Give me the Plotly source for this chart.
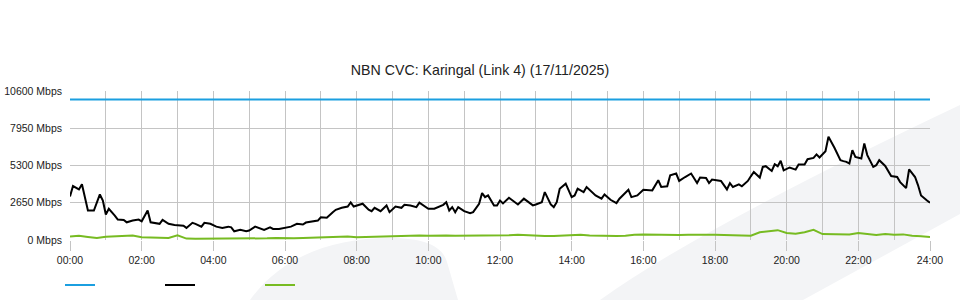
import plotly.graph_objects as go

# ---------------- data ----------------
title_text = "NBN CVC: Karingal (Link 4) (17/11/2025)"

cap_times = ["00:00", "24:00"]
cap_values = [10000, 10000]

traffic_times = [
    "00:00","00:05","00:15","00:20","00:30","00:40","00:50","00:55","01:00","01:05",
    "01:15","01:20","01:30","01:35","01:45","01:55","02:00","02:10","02:15","02:25",
    "02:30","02:35","02:45","02:55","03:10","03:15","03:25","03:30","03:40","03:45",
    "03:55","04:05","04:15","04:25","04:30","04:35","04:45","04:55","05:00","05:10",
    "05:15","05:25","05:35","05:40","05:50","06:05","06:10","06:20","06:30","06:35",
    "06:45","06:55","07:00","07:10","07:20","07:25","07:35","07:45","07:50","07:55",
    "08:10","08:20","08:25","08:30","08:40","08:50","08:55","09:05","09:15","09:20",
    "09:30","09:40","09:45","10:00","10:10","10:25","10:30","10:35","10:40","10:45",
    "10:50","11:00","11:10","11:15","11:25","11:30","11:35","11:40","11:50","11:55",
    "12:00","12:05","12:15","12:30","12:40","12:55","13:00","13:10","13:15","13:25",
    "13:30","13:35","13:40","13:50","14:00","14:05","14:10","14:20","14:25","14:40",
    "14:50","14:55","15:05","15:15","15:20","15:30","15:35","15:40","15:50","16:00",
    "16:10","16:15","16:25","16:30","16:40","16:45","16:55","17:00","17:10","17:20",
    "17:30","17:35","17:45","17:50","17:55","18:10","18:20","18:25","18:30","18:40",
    "18:45","18:55","19:00","19:05","19:15","19:20","19:25","19:35","19:40","19:45",
    "19:50","19:55","20:05","20:15","20:20","20:30","20:35","20:45","20:50","20:55",
    "21:05","21:10","21:20","21:30","21:35","21:40","21:45","21:50","21:55","22:05",
    "22:10","22:15","22:25","22:30","22:35","22:45","22:55","23:05","23:10","23:20",
    "23:25","23:35","23:40","23:45","23:55","24:00",
]
traffic_values = [
    3100, 3840, 3600, 3960, 2100, 2100, 3240, 2810, 1810, 2220,
    1740, 1450, 1430, 1260, 1380, 1450, 1330, 2100, 1260, 1150,
    1150, 1430, 1150, 1070, 1020, 860, 1220, 1150, 950, 1220,
    1150, 950, 860, 950, 900, 620, 720, 620, 670, 950,
    860, 720, 900, 790, 790, 950, 950, 1150, 1100, 1240,
    1330, 1380, 1620, 1580, 1980, 2150, 2290, 2380, 2670, 2380,
    2580, 2150, 2050, 2290, 2050, 2460, 1980, 2380, 2290, 2500,
    2460, 2340, 2650, 2220, 2220, 2500, 2690, 2100, 2340, 1980,
    2340, 2050, 1900, 1980, 2580, 3340, 3050, 3170, 2460, 2460,
    2810, 2600, 3010, 2530, 2940, 2460, 2530, 2690, 3410, 2530,
    2340, 2690, 3650, 4010, 3050, 3170, 3650, 3410, 3770, 3170,
    2940, 3240, 2860, 2620, 2940, 3410, 3580, 3050, 3170, 3580,
    3530, 3530, 4250, 3770, 3820, 4600, 4730, 4200, 4480, 4730,
    4050, 4440, 4410, 4050, 4300, 4200, 3600, 4050, 3770, 3960,
    3820, 4200, 4530, 4840, 4440, 5200, 5250, 4910, 5390, 5250,
    5630, 4960, 5160, 5010, 5370, 5370, 5750, 5840, 6090, 5870,
    6320, 7350, 6560, 5680, 5610, 5560, 5440, 6390, 5910, 5800,
    6870, 6040, 5200, 5320, 5680, 5270, 4550, 4480, 4120, 3690,
    5030, 4480, 3890, 3170, 2810, 2650, 2460,
]

other_times = [
    "00:00","00:15","00:30","00:45","01:00","01:15","01:30","01:45","02:00","02:15",
    "02:30","02:45","03:00","03:15","03:30","03:45","04:00","04:15","04:30","04:45",
    "05:00","05:15","05:30","05:45","06:00","06:15","06:30","06:45","07:00","07:15",
    "07:30","07:45","08:00","08:15","08:30","08:45","09:00","09:15","09:30","09:45",
    "10:00","10:15","10:30","10:45","11:00","11:15","11:30","11:45","12:00","12:15",
    "12:30","12:45","13:00","13:15","13:30","13:45","14:00","14:15","14:30","14:45",
    "15:00","15:15","15:30","15:45","16:00","16:15","16:30","16:45","17:00","17:15",
    "17:30","17:45","18:00","18:15","18:30","18:45","19:00","19:15","19:30","19:45",
    "20:00","20:15","20:30","20:45","21:00","21:15","21:30","21:45","22:00","22:15",
    "22:30","22:45","23:00","23:15","23:30","23:45","24:00",
]
other_values = [
    250, 300, 220, 150, 230, 260, 330, 320, 200, 180,
    170, 150, 330, 100, 90, 90, 90, 100, 90, 90,
    100, 120, 120, 150, 120, 120, 150, 180, 200, 200,
    220, 250, 200, 220, 250, 250, 250, 270, 320, 320,
    300, 320, 320, 300, 300, 320, 340, 350, 320, 330,
    380, 330, 300, 280, 280, 300, 330, 380, 320, 300,
    280, 290, 300, 380, 400, 380, 350, 330, 360, 370,
    400, 380, 380, 360, 370, 350, 300, 550, 650, 700,
    500, 450, 550, 720, 420, 400, 380, 400, 500, 450,
    350, 420, 380, 400, 300, 260, 220,
]

x_tick_vals = [0, 2, 4, 6, 8, 10, 12, 14, 16, 18, 20, 22, 24]
x_tick_text = ["00:00", "02:00", "04:00", "06:00", "08:00", "10:00", "12:00",
               "14:00", "16:00", "18:00", "20:00", "22:00", "24:00"]
y_tick_vals = [0, 2650, 5300, 7950, 10600]
y_tick_text = ["0 Mbps", "2650 Mbps", "5300 Mbps", "7950 Mbps", "10600 Mbps"]


def to_hours(t):
    h, m = t.split(":")
    return int(h) + int(m) / 60.0


# ---------------- layout geometry ----------------
W, H = 960, 300
ML, MR, MT, MB = 70, 30, 91, 60
PW, PH = W - ML - MR, H - MT - MB


def px(x, y):
    return (x - ML) / PW, (H - MB - y) / PH


def path(cmds):
    out = []
    for c in cmds:
        if isinstance(c, str):
            out.append(c)
        else:
            xx, yy = px(*c)
            out.append(f"{xx:.5f},{yy:.5f}")
    return " ".join(out)


band = path(["M", (600, 300), "Q", (700, 228), (960, 105), "L", (960, 214), "L", (803, 300), "Z"])
swoosh = path(["M", (250, 300), "C", (280, 258), (330, 238), (390, 238),
               "C", (425, 238), (442, 246), (447, 262), "L", (458, 300), "Z"])

fig = go.Figure()

fig.add_trace(go.Scatter(
    x=[to_hours(t) for t in cap_times], y=cap_values, mode="lines",
    line=dict(color="#1b9fe0", width=2), name=" ", hoverinfo="skip"))
fig.add_trace(go.Scatter(
    x=[to_hours(t) for t in traffic_times], y=traffic_values, mode="lines",
    line=dict(color="#000000", width=2), name=" ", hoverinfo="skip"))
fig.add_trace(go.Scatter(
    x=[to_hours(t) for t in other_times], y=other_values, mode="lines",
    line=dict(color="#77bb22", width=2), name=" ", hoverinfo="skip"))

grid_col = "#c4c4c4"
fig.update_layout(
    width=W, height=H,
    margin=dict(l=ML, r=MR, t=MT, b=MB, autoexpand=False),
    paper_bgcolor="white", plot_bgcolor="rgba(0,0,0,0)",
    font=dict(family="Liberation Sans, Arial, sans-serif", size=10.5, color="#222222"),
    title=dict(text=title_text, x=0.5, xref="container", xanchor="center",
               y=1 - 70.5 / H, yref="container", yanchor="middle",
               font=dict(size=14.2, color="#222222")),
    showlegend=True,
    legend=dict(orientation="h", x=60 / W, xref="container", xanchor="left",
                y=1 - 285 / H, yref="container", yanchor="middle",
                entrywidth=55, entrywidthmode="pixels", bgcolor="rgba(0,0,0,0)",
                font=dict(size=11)),
    shapes=[
        dict(type="path", path=band, xref="paper", yref="paper", layer="below",
             fillcolor="#f3f4f6", line=dict(width=0)),
        dict(type="path", path=swoosh, xref="paper", yref="paper", layer="below",
             fillcolor="#f3f4f6", line=dict(width=0)),
    ],
)

fig.update_xaxes(
    range=[0, 24], tickmode="array", tickvals=x_tick_vals, ticktext=x_tick_text,
    showgrid=True, gridcolor=grid_col, gridwidth=1, zeroline=False, showline=False,
    ticks="outside", ticklen=10, tickcolor=grid_col, tickwidth=1,
    minor=dict(tickmode="array", tickvals=list(range(0, 25)), showgrid=True,
               gridcolor=grid_col, gridwidth=1, ticks=""),
    automargin=False, fixedrange=True,
)
fig.update_yaxes(
    range=[0, 10600], tickmode="array", tickvals=y_tick_vals, ticktext=y_tick_text,
    showgrid=True, gridcolor=grid_col, gridwidth=1, zeroline=False, showline=False,
    ticks="", ticklabelstandoff=7, automargin=False, fixedrange=True,
)

fig.write_html("out.html")
